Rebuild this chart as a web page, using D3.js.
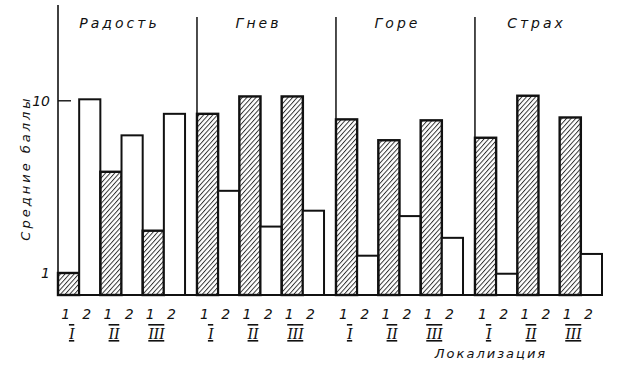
<!DOCTYPE html>
<html>
<head>
<meta charset="utf-8">
<script src="https://cdn.jsdelivr.net/npm/d3@7"></script>
<style>
  body { margin: 0; background: #fff; }
  text { font-family: "DejaVu Sans", sans-serif; font-style: italic; fill: #111; }
</style>
</head>
<body>
<script>
const emotions = ["Радость", "Гнев", "Горе", "Страх"];
const localizations = ["I", "II", "III"];
const variants = ["1", "2"];
// mean scores, variant 1 (hatched) and variant 2 (white), per emotion x localization
const series1 = [
  [1.0, 3.87, 1.76],
  [8.4, 10.6, 10.6],
  [7.8, 5.9, 7.7],
  [6.1, 10.7, 8.0]
];
const series2 = [
  [10.2, 6.3, 8.4],
  [3.0, 1.86, 2.3],
  [1.26, 2.14, 1.6],
  [0.99, null, 1.29]
];
const yTicks = [1, 10];

const width = 617, height = 365;
const margin = { top: 5, right: 14, bottom: 70, left: 58 };

const svg = d3.select("body").append("svg")
    .attr("width", width)
    .attr("height", height);

const defs = svg.append("defs");
defs.append("pattern")
    .attr("id", "hatch")
    .attr("patternUnits", "userSpaceOnUse")
    .attr("width", 3.4)
    .attr("height", 3.4)
    .attr("patternTransform", "rotate(42)")
  .append("line")
    .attr("x1", 0.5).attr("y1", 0)
    .attr("x2", 0.5).attr("y2", 3.4)
    .attr("stroke", "#222")
    .attr("stroke-width", 0.9);

const x0 = d3.scaleBand()
    .domain(emotions)
    .range([margin.left, width - margin.right - 1])
    .paddingInner(0.086)
    .paddingOuter(0);

const keys = [];
localizations.forEach(l => variants.forEach(v => keys.push(l + "-" + v)));
const x1 = d3.scaleBand()
    .domain(keys)
    .range([0, x0.bandwidth()])
    .padding(0);

const baseY = height - margin.bottom;
const y = d3.scaleLog()
    .domain([0.745, 36])
    .range([baseY, margin.top]);

// flatten data
const data = [];
emotions.forEach((e, i) => {
  localizations.forEach((l, j) => {
    data.push({ emotion: e, key: l + "-1", value: series1[i][j], hatch: true });
    data.push({ emotion: e, key: l + "-2", value: series2[i][j], hatch: false });
  });
});

svg.append("g")
  .selectAll("rect")
  .data(data.filter(d => d.value != null))
  .join("rect")
    .attr("x", d => x0(d.emotion) + x1(d.key))
    .attr("y", d => y(d.value))
    .attr("width", x1.bandwidth())
    .attr("height", d => baseY - y(d.value))
    .attr("fill", d => d.hatch ? "url(#hatch)" : "#fff")
    .attr("stroke", "#111")
    .attr("stroke-width", d => d.hatch ? 2.4 : 2);

// axes
svg.append("line")
    .attr("x1", margin.left).attr("x2", margin.left)
    .attr("y1", margin.top).attr("y2", baseY)
    .attr("stroke", "#111").attr("stroke-width", 1.6);

svg.append("line")
    .attr("x1", margin.left).attr("x2", x0.range()[1] + 1)
    .attr("y1", baseY).attr("y2", baseY)
    .attr("stroke", "#111").attr("stroke-width", 2.2);

// group separators
svg.append("g")
  .selectAll("line")
  .data(emotions.slice(1))
  .join("line")
    .attr("x1", d => x0(d)).attr("x2", d => x0(d))
    .attr("y1", 17).attr("y2", baseY)
    .attr("stroke", "#111").attr("stroke-width", 1.5);

// y ticks
const yt = svg.append("g");
yt.selectAll("line")
  .data(yTicks)
  .join("line")
    .attr("x1", margin.left).attr("x2", margin.left + 13)
    .attr("y1", d => y(d)).attr("y2", d => y(d))
    .attr("stroke", "#111").attr("stroke-width", 1.4);
yt.selectAll("text")
  .data(yTicks)
  .join("text")
    .attr("x", margin.left - 8)
    .attr("y", d => y(d) + 5)
    .attr("text-anchor", "end")
    .style("font-size", "14px")
    .text(d => d);

svg.append("text")
    .attr("transform", `translate(30, 168) rotate(-90)`)
    .attr("text-anchor", "middle")
    .style("font-size", "13px")
    .style("letter-spacing", "3px")
    .text("Средние баллы");

// group titles
svg.append("g")
  .selectAll("text")
  .data(emotions)
  .join("text")
    .attr("x", d => x0(d) + x0.bandwidth() / 2 - 2)
    .attr("y", 28)
    .attr("text-anchor", "middle")
    .style("font-size", "14px")
    .style("letter-spacing", "3px")
    .text(d => d);

// variant labels 1 2
svg.append("g")
  .selectAll("text")
  .data(data)
  .join("text")
    .attr("x", d => x0(d.emotion) + x1(d.key) + x1.bandwidth() / 2 - 3)
    .attr("y", 319)
    .attr("text-anchor", "middle")
    .style("font-size", "14px")
    .text(d => d.key.split("-")[1]);

// localization numerals
const locData = [];
emotions.forEach(e => localizations.forEach(l => locData.push({ emotion: e, loc: l })));
svg.append("g")
  .selectAll("text")
  .data(locData)
  .join("text")
    .attr("x", d => x0(d.emotion) + x1(d.loc + "-1") + x1.bandwidth() / 2 + 3)
    .attr("y", 339)
    .attr("text-anchor", "middle")
    .style("font-family", "'Liberation Serif', serif")
    .style("font-size", "16px")
    .style("text-decoration", "underline overline")
    .text(d => d.loc);

svg.append("text")
    .attr("x", 491)
    .attr("y", 358)
    .attr("text-anchor", "middle")
    .style("font-size", "13px")
    .style("letter-spacing", "2px")
    .text("Локализация");
</script>
</body>
</html>
